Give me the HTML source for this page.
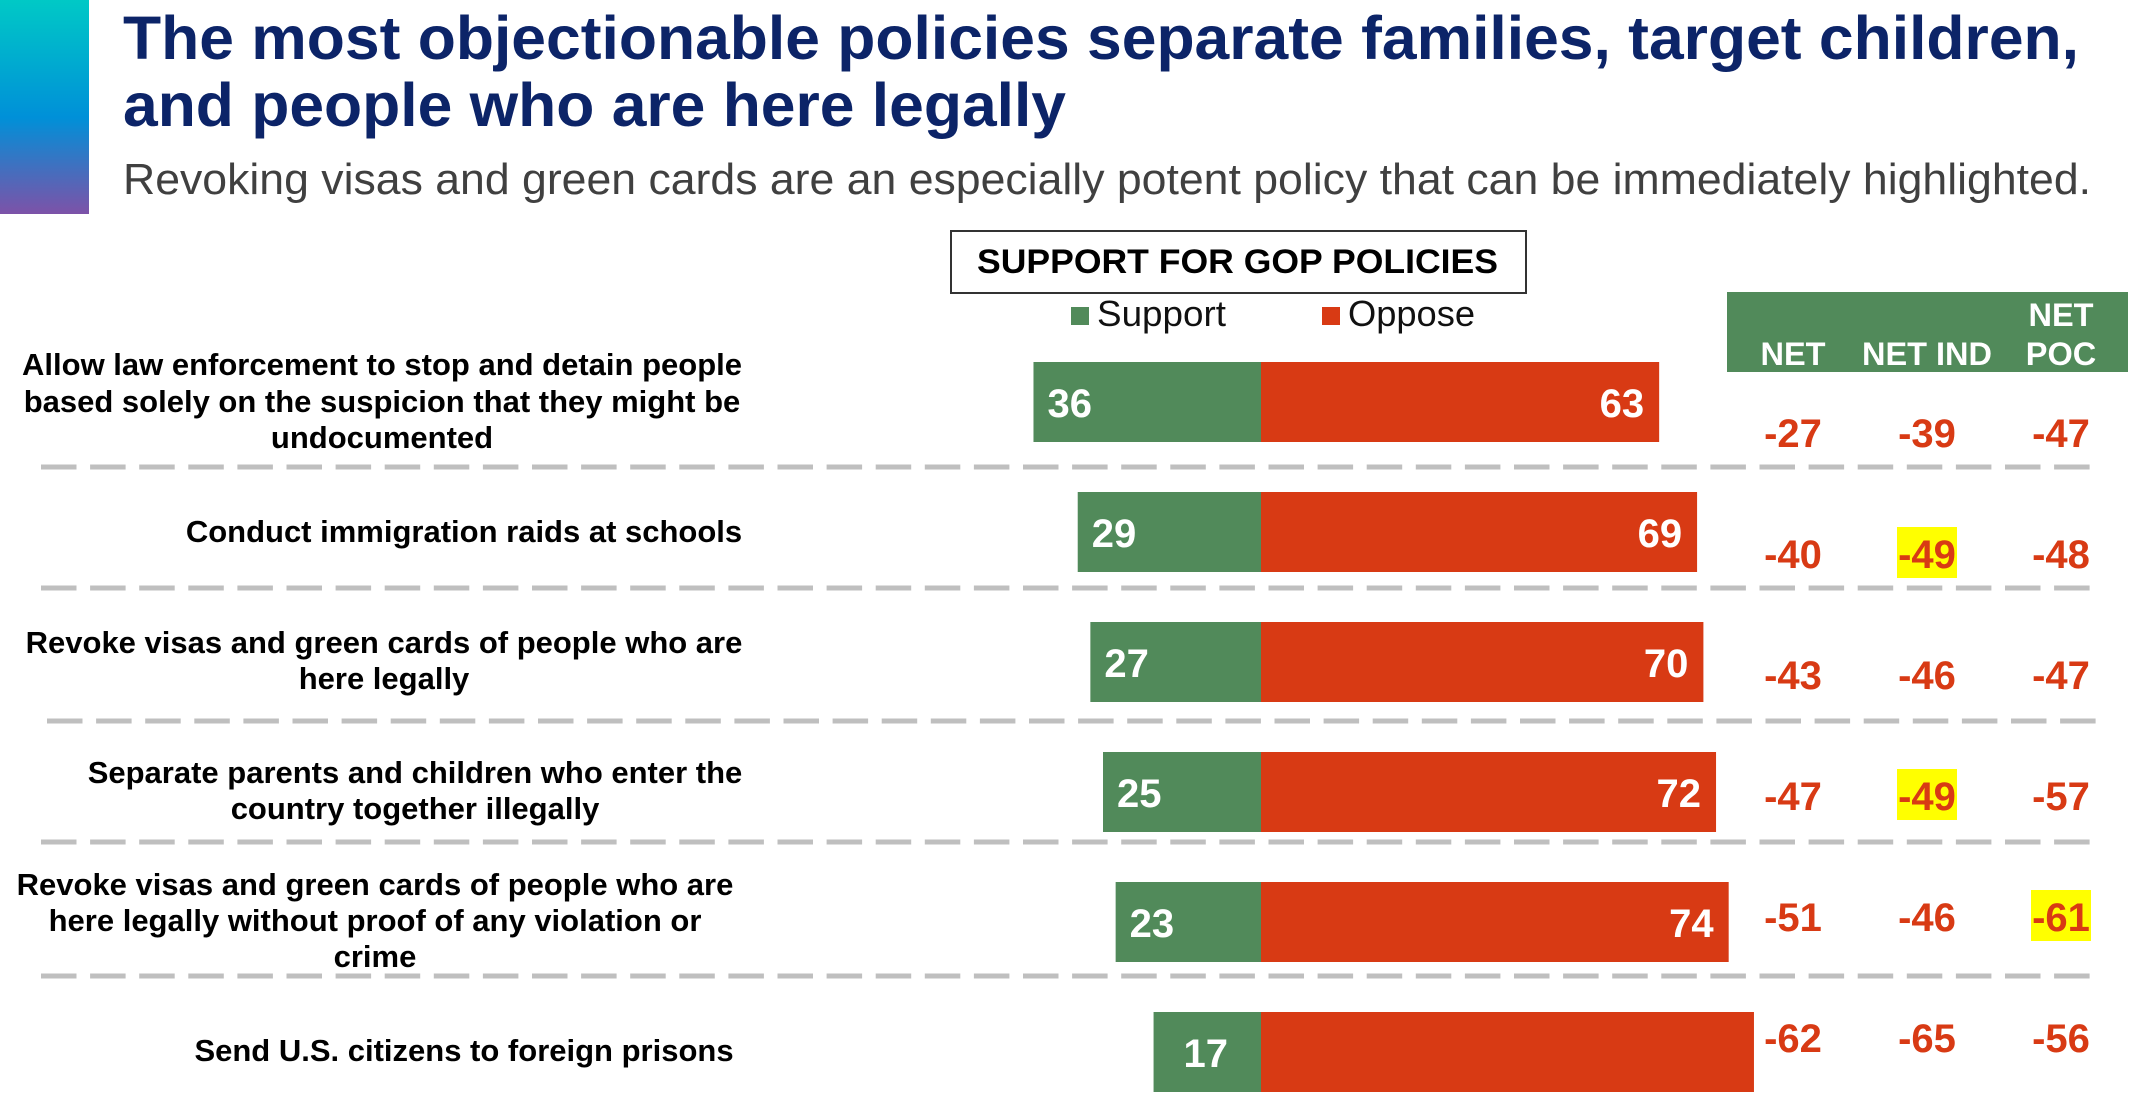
<!DOCTYPE html>
<html lang="en">
<head>
<meta charset="utf-8">
<title>Support for GOP policies</title>
<style>
html,body{margin:0;padding:0;background:#fff;}
svg{display:block;font-family:"Liberation Sans",Arial,sans-serif;}
.cat{font-weight:700;font-size:31px;fill:#000;text-anchor:middle;}
.hdr{font-weight:700;font-size:32.5px;fill:#fff;text-anchor:middle;}
</style>
</head>
<body>
<svg id="chart" xmlns="http://www.w3.org/2000/svg" width="2136" height="1111" viewBox="0 0 2136 1111">
  <defs>
    <linearGradient id="accent" x1="0" y1="0" x2="0" y2="1">
      <stop offset="0" stop-color="#00c9c6"/>
      <stop offset="0.55" stop-color="#0090d8"/>
      <stop offset="1" stop-color="#7d52a8"/>
    </linearGradient>
  </defs>
  <rect width="2136" height="1111" fill="#fff"/>
  <rect x="0" y="0" width="89" height="214" fill="url(#accent)"/>

  <g font-weight="700" font-size="61" fill="#0c2468">
    <text x="123" y="59" textLength="1956" lengthAdjust="spacingAndGlyphs">The most objectionable policies separate families, target children,</text>
    <text x="123" y="126" textLength="943" lengthAdjust="spacingAndGlyphs">and people who are here legally</text>
  </g>
  <text x="123" y="194" font-size="44" fill="#404040" textLength="1968" lengthAdjust="spacingAndGlyphs">Revoking visas and green cards are an especially potent policy that can be immediately highlighted.</text>

  <rect x="951" y="231" width="575" height="62" fill="#fff" stroke="#333" stroke-width="2"/>
  <text x="977" y="273" font-size="34" font-weight="700" fill="#000" textLength="521" lengthAdjust="spacingAndGlyphs">SUPPORT FOR GOP POLICIES</text>

  <g>
    <g>
      <rect x="1071" y="307" width="18" height="18" fill="#518a5a"/>
      <text x="1097" y="326" font-size="36" fill="#111" textLength="129" lengthAdjust="spacingAndGlyphs">Support</text>
    </g>
    <g>
      <rect x="1322" y="307" width="18" height="18" fill="#d83a14"/>
      <text x="1348" y="326" font-size="36" fill="#111" textLength="127" lengthAdjust="spacingAndGlyphs">Oppose</text>
    </g>
  </g>

  <g>
    <rect x="1727" y="292" width="401" height="80" fill="#518a5a"/>
    <text class="hdr" x="1793" y="365">NET</text>
    <text class="hdr" x="1927" y="365">NET IND</text>
    <text class="hdr" x="2061" y="326">NET</text>
    <text class="hdr" x="2061" y="365">POC</text>
  </g>

  <g>
    <g>
      <text class="cat" x="382" y="375">Allow law enforcement to stop and detain people</text>
      <text class="cat" x="382" y="412">based solely on the suspicion that they might be</text>
      <text class="cat" x="382" y="448">undocumented</text>
    </g>
    <text class="cat" x="464" y="542">Conduct immigration raids at schools</text>
    <g>
      <text class="cat" x="384" y="653">Revoke visas and green cards of people who are</text>
      <text class="cat" x="384" y="689">here legally</text>
    </g>
    <g>
      <text class="cat" x="415" y="783">Separate parents and children who enter the</text>
      <text class="cat" x="415" y="819">country together illegally</text>
    </g>
    <g>
      <text class="cat" x="375" y="895">Revoke visas and green cards of people who are</text>
      <text class="cat" x="375" y="931">here legally without proof of any violation or</text>
      <text class="cat" x="375" y="967">crime</text>
    </g>
    <text class="cat" x="464" y="1061">Send U.S. citizens to foreign prisons</text>
  </g>

  <g stroke="#bfbfbf" stroke-width="5" stroke-dasharray="35.5 13.6" fill="none">
    <line x1="41" x2="2090" y1="467" y2="467"/>
    <line x1="41" x2="2090" y1="588" y2="588"/>
    <line x1="47" x2="2096" y1="721" y2="721"/>
    <line x1="41" x2="2090" y1="842" y2="842"/>
    <line x1="41" x2="2090" y1="976" y2="976"/>
  </g>

  <g id="bars"></g>
  <g id="nets"></g>
</svg>

<script>
const categories = ["Stop and detain on suspicion", "Raids at schools", "Revoke visas, here legally", "Separate parents and children", "Revoke visas, no proof", "Foreign prisons"];
const supportValues = [36, 29, 27, 25, 23, 17];
const opposeValues = [63, 69, 70, 72, 74, 78];
const opposeLabels = ["63", "69", "70", "72", "74", ""];
const netAll = [-27, -40, -43, -47, -51, -62];
const netInd = [-39, -49, -46, -49, -46, -65];
const netPoc = [-47, -48, -47, -57, -61, -56];
const highlightInd = [false, true, false, true, false, false];
const highlightPoc = [false, false, false, false, true, false];

const SVG_NS = "http://www.w3.org/2000/svg";
const barsGroup = document.getElementById("bars");
const netsGroup = document.getElementById("nets");

function xScale(v) { return 1261 + v * 6.32; }
function barTop(i) { return 362 + 130 * i; }
const barHeight = 80;
function netBaseline(i) { return 447 + 121 * i; }

function shape(tag, parent) {
  const el = document.createElementNS(SVG_NS, tag);
  parent.appendChild(el);
  return el;
}
function setAll(el, props) {
  Object.keys(props).forEach(function (k) { el.setAttribute(k, props[k]); });
}

categories.forEach(function (cat, i) {
  const top = barTop(i);
  const left = xScale(-supportValues[i]);
  const right = xScale(opposeValues[i]);

  const greenBar = shape("rect", barsGroup);
  setAll(greenBar, { x: left, y: top, width: xScale(0) - left, height: barHeight, fill: "#518a5a" });
  
  

  const redBar = shape("rect", barsGroup);
  setAll(redBar, { x: xScale(0), y: top, width: right - xScale(0), height: barHeight, fill: "#d83a14" });
  
  

  const supportText = shape("text", barsGroup);
  const inset = supportValues[i] < 20 ? 30 : 14;
  setAll(supportText, { x: left + inset, y: top + 55, fill: "#fff", "font-size": 40, "font-weight": 700 });
  supportText.textContent = String(supportValues[i]);
  
  

  if (opposeLabels[i]) {
    const opposeText = shape("text", barsGroup);
    setAll(opposeText, { x: right - 15, y: top + 55, fill: "#fff", "font-size": 40, "font-weight": 700, "text-anchor": "end" });
    opposeText.textContent = opposeLabels[i];
    
    
  }

  [[1793, netAll, null], [1927, netInd, highlightInd], [2061, netPoc, highlightPoc]].forEach(function (col) {
    const cx = col[0];
    const base = netBaseline(i);
    if (col[2] && col[2][i]) {
      const mark = shape("rect", netsGroup);
      setAll(mark, { x: cx - 30, y: base - 41, width: 60, height: 51, fill: "#ffff00" });
      
      
    }
    const t = shape("text", netsGroup);
    setAll(t, { x: cx, y: base, fill: "#d83a14", "font-size": 40, "font-weight": 700, "text-anchor": "middle" });
    t.textContent = String(col[1][i]);
    
    
  });
});
</script>
</body>
</html>
